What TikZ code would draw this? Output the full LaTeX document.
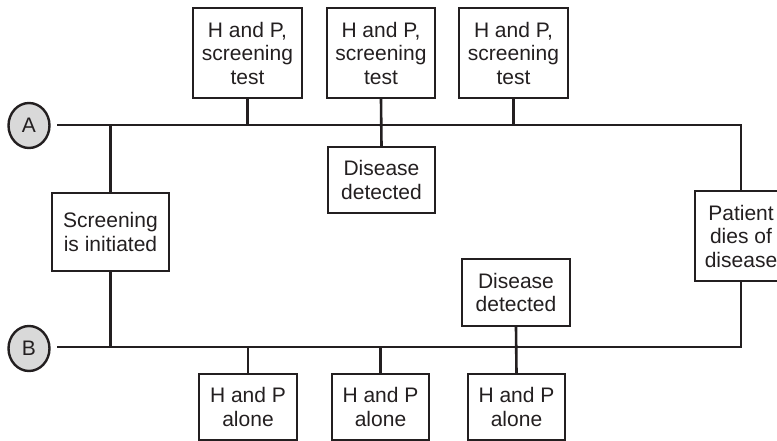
\documentclass[tikz,border=0pt]{standalone}
\usepackage{fontspec}
\setmainfont{Liberation Sans}
\usetikzlibrary{shapes.geometric}
\definecolor{ink}{HTML}{231F20}
\definecolor{circfill}{HTML}{D9D9D9}
\begin{document}
\begin{tikzpicture}[x=1pt,y=-1pt,
  every node/.style={text=ink},
  boxline/.style={draw=ink, line width=2.4pt},
  box/.style={boxline, rectangle, inner sep=0pt, align=center,
    font=\fontsize{21}{23.5}\selectfont},
  endpt/.style={draw=ink, line width=2.4pt, ellipse, fill=circfill, inner sep=0pt,
    minimum width=41pt, minimum height=45pt, font=\fontsize{21}{23.5}\selectfont},
  conn/.style={draw=ink, line width=2.6pt}
]
\useasboundingbox (0,0) rectangle (777,441);
\clip (0,0) rectangle (777,441);
% end points
\node[endpt] (A) at (29,125.5) {A};
\node[endpt] (B) at (29,348.5) {B};
\coordinate (As) at (57,125);
\coordinate (Bs) at (57,347);
% boxes
\node[box, minimum width=109pt, minimum height=90pt] (t1) at (247.5,53) {H and P,\\screening\\test};
\node[box, minimum width=108pt, minimum height=90pt] (t2) at (381,53) {H and P,\\screening\\test};
\node[box, minimum width=109pt, minimum height=90pt] (t3) at (513.5,53) {H and P,\\screening\\test};
\node[box, minimum width=107pt, minimum height=66pt] (dt) at (381.5,180) {Disease\\detected};
\node[box, minimum width=117pt, minimum height=78pt] (sc) at (110.5,232) {Screening\\is initiated};
\node[box, draw=none, minimum width=90pt, minimum height=88pt] (pt) at (741,236) {Patient\\dies of\\disease};
\draw[boxline] (pt.north west) rectangle ([xshift=30pt]pt.south east);
\node[box, minimum width=108pt, minimum height=67pt] (db) at (516,292.5) {Disease\\detected};
\node[box, minimum width=98pt, minimum height=66pt] (b1) at (248,407) {H and P\\alone};
\node[box, minimum width=97pt, minimum height=66pt] (b2) at (380.5,407) {H and P\\alone};
\node[box, minimum width=97pt, minimum height=66pt] (b3) at (516.5,407) {H and P\\alone};
% main time lines
\draw[conn] (As) -- (As -| pt.north) -- (pt.north);
\draw[conn] (pt.south) -- (pt.south |- Bs) -- (Bs);
% screening branch
\draw[conn] (sc.north) -- (sc.north |- As);
\draw[conn] (sc.south) -- (sc.south |- Bs);
% top connectors
\draw[conn] (t1.south) -- (t1.south |- As);
\draw[conn] (t2.south) -- (dt.north);
\draw[conn] (t3.south) -- (t3.south |- As);
% bottom connectors
\draw[conn] (b1.north) -- (b1.north |- Bs);
\draw[conn] (b2.north) -- (b2.north |- Bs);
\draw[conn] (db.south) -- (b3.north);
\end{tikzpicture}
\end{document}
